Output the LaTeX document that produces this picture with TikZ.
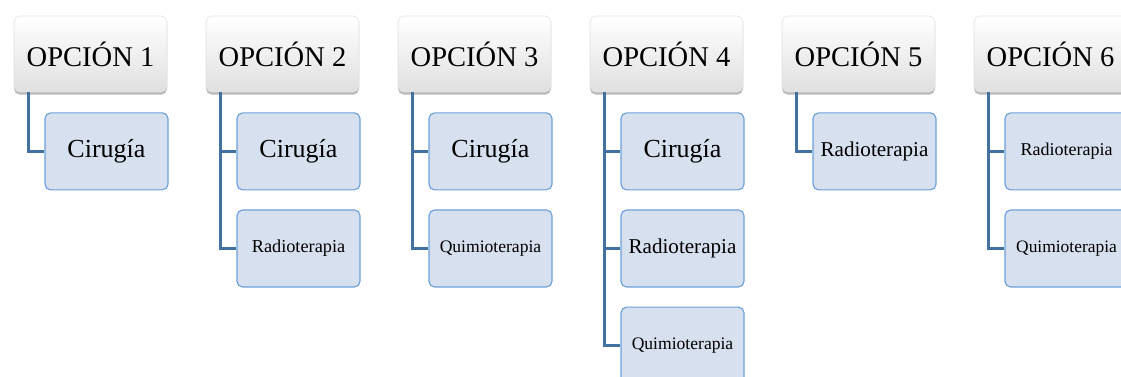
\documentclass[tikz,border=0pt]{standalone}
\usepackage{fontspec}
\setmainfont{Liberation Serif}
\usetikzlibrary{positioning, shadows}
\definecolor{cItem}{RGB}{214, 224, 238}
\definecolor{bItem}{RGB}{108, 160, 218}
\definecolor{cLink}{RGB}{68, 114, 160}
\definecolor{cHeadBot}{RGB}{224, 224, 224}
\newcommand{\fsz}[1]{\fontsize{#1}{#1}\selectfont}

\begin{document}
\begin{tikzpicture}[
    opcion/.style={
        rectangle,
        rounded corners=4pt,
        top color=white,
        bottom color=cHeadBot,
        draw=black!12,
        line width=0.4pt,
        minimum width=3.825cm,
        minimum height=1.9cm,
        inner sep=0pt,
        drop shadow={shadow xshift=0pt, shadow yshift=-1.8pt, opacity=0.4, fill=black!70},
        font=\fsz{20.3pt}
    },
    item/.style={
        rectangle,
        draw=bItem,
        line width=0.8pt,
        fill=cItem,
        rounded corners=4pt,
        minimum width=3.075cm,
        minimum height=1.925cm,
        inner sep=0pt,
        font=\fsz{#1}
    },
    item/.default=12.6pt,
    link/.style={draw=cLink, line width=2pt}
]

\clip (0,0) rectangle (28.025,-9.4);

% Opcion 1
\node[opcion] (o1) at (2.2625,-1.35) {OPCIÓN 1};
\node[item=18.5pt, below=0.5cm of o1, xshift=0.4cm] (c11) {Cirugía};
\draw[link] ([xshift=0.375cm]o1.south west) |- (c11.west);

% Opcion 2
\node[opcion] (o2) at (7.0625,-1.35) {OPCIÓN 2};
\node[item=18.5pt, below=0.5cm of o2, xshift=0.4cm] (c21) {Cirugía};
\node[item=13pt, below=0.475cm of c21] (c22) {Radioterapia};
\draw[link] ([xshift=0.375cm]o2.south west) |- (c22.west);
\draw[link] ([xshift=0.375cm]o2.south west) |- (c21.west);

% Opcion 3
\node[opcion] (o3) at (11.8625,-1.35) {OPCIÓN 3};
\node[item=18.5pt, below=0.5cm of o3, xshift=0.4cm] (c31) {Cirugía};
\node[item=12.5pt, below=0.475cm of c31] (c32) {Quimioterapia};
\draw[link] ([xshift=0.375cm]o3.south west) |- (c32.west);
\draw[link] ([xshift=0.375cm]o3.south west) |- (c31.west);

% Opcion 4
\node[opcion] (o4) at (16.6625,-1.35) {OPCIÓN 4};
\node[item=18.5pt, below=0.5cm of o4, xshift=0.4cm] (c41) {Cirugía};
\node[item=15pt, below=0.475cm of c41] (c42) {Radioterapia};
\node[item=12.5pt, below=0.475cm of c42] (c43) {Quimioterapia};
\draw[link] ([xshift=0.375cm]o4.south west) |- (c43.west);
\draw[link] ([xshift=0.375cm]o4.south west) |- (c42.west);
\draw[link] ([xshift=0.375cm]o4.south west) |- (c41.west);

% Opcion 5
\node[opcion] (o5) at (21.4625,-1.35) {OPCIÓN 5};
\node[item=15pt, below=0.5cm of o5, xshift=0.4cm] (c51) {Radioterapia};
\draw[link] ([xshift=0.375cm]o5.south west) |- (c51.west);

% Opcion 6
\node[opcion] (o6) at (26.2625,-1.35) {OPCIÓN 6};
\node[item=12.8pt, below=0.5cm of o6, xshift=0.4cm] (c61) {Radioterapia};
\node[item=12.4pt, below=0.475cm of c61] (c62) {Quimioterapia};
\draw[link] ([xshift=0.375cm]o6.south west) |- (c62.west);
\draw[link] ([xshift=0.375cm]o6.south west) |- (c61.west);

\end{tikzpicture}
\end{document}
